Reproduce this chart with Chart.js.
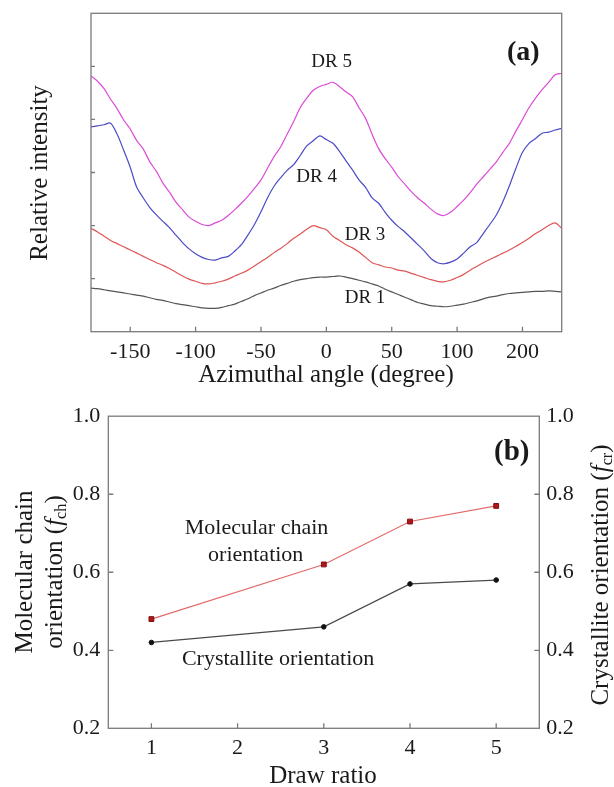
<!DOCTYPE html>
<html>
<head>
<meta charset="utf-8">
<script src="https://cdn.jsdelivr.net/npm/chart.js@4.4.1/dist/chart.umd.min.js"></script>
<style>
  html, body { margin: 0; padding: 0; background: #fff; }
  #wrap { position: relative; width: 614px; height: 787px; }
  canvas { position: absolute; left: 0; }
  #chartA { top: 0; }
  #chartB { top: 395px; }
</style>
</head>
<body>
<div id="wrap">
  <canvas id="chartA" width="614" height="395"></canvas>
  <canvas id="chartB" width="614" height="392"></canvas>
</div>
<script>
// ---- panel (a): azimuthal intensity profiles ----
const angles = [
  -180, -175, -170, -165, -160, -155, -150, -145, -140, -135, -130, -125, -120, -115, -110, -105,
  -100, -95, -90, -85, -80, -75, -70, -65, -60, -55, -50, -45, -40, -35, -30, -25, -20, -15, -10, -5,
  0, 5, 10, 15, 20, 25, 30, 35, 40, 45, 50, 55, 60, 65, 70, 75, 80, 85, 90, 95,
  100, 105, 110, 115, 120, 125, 130, 135, 140, 145, 150, 155, 160, 165, 170, 175, 180
];
const dr5 = [
  4.82, 4.72, 4.58, 4.38, 4.20, 3.99, 3.82, 3.60, 3.44, 3.20, 3.02, 2.80, 2.63, 2.44, 2.30, 2.16,
  2.08, 2.02, 2.00, 2.05, 2.10, 2.19, 2.30, 2.42, 2.55, 2.70, 2.86, 3.08, 3.30, 3.48, 3.72, 3.96, 4.22, 4.40, 4.55, 4.62,
  4.66, 4.70, 4.62, 4.52, 4.43, 4.22, 4.02, 3.72, 3.45, 3.26, 3.10, 2.92, 2.78, 2.64, 2.52, 2.42, 2.31, 2.22, 2.19, 2.25,
  2.36, 2.48, 2.62, 2.78, 2.92, 3.06, 3.20, 3.38, 3.55, 3.78, 4.00, 4.22, 4.40, 4.56, 4.70, 4.84, 4.87
];
const dr4 = [
  3.86, 3.88, 3.90, 3.93, 3.72, 3.42, 3.10, 2.72, 2.52, 2.34, 2.20, 2.08, 1.96, 1.82, 1.68, 1.56,
  1.47, 1.40, 1.36, 1.35, 1.39, 1.42, 1.52, 1.64, 1.82, 2.02, 2.26, 2.52, 2.74, 2.90, 3.04, 3.15, 3.32, 3.50, 3.60, 3.69,
  3.62, 3.55, 3.40, 3.22, 3.05, 2.86, 2.72, 2.52, 2.42, 2.25, 2.10, 1.98, 1.88, 1.76, 1.64, 1.52, 1.38, 1.30, 1.28, 1.31,
  1.37, 1.48, 1.60, 1.68, 1.85, 2.02, 2.20, 2.45, 2.75, 3.08, 3.38, 3.55, 3.64, 3.74, 3.76, 3.80, 3.83
];
const dr3 = [
  1.95, 1.88, 1.80, 1.72, 1.66, 1.60, 1.54, 1.48, 1.42, 1.36, 1.30, 1.25, 1.19, 1.12, 1.05, 0.99,
  0.95, 0.91, 0.90, 0.92, 0.95, 0.99, 1.05, 1.10, 1.16, 1.24, 1.32, 1.40, 1.49, 1.57, 1.66, 1.76, 1.84, 1.93, 2.00, 1.96,
  1.92, 1.80, 1.72, 1.64, 1.58, 1.50, 1.40, 1.30, 1.26, 1.22, 1.20, 1.16, 1.14, 1.10, 1.06, 1.02, 0.98, 0.95, 0.94, 0.97,
  1.02, 1.08, 1.16, 1.23, 1.30, 1.36, 1.42, 1.48, 1.54, 1.61, 1.68, 1.76, 1.85, 1.92, 2.00, 2.05, 1.95
];
const dr1 = [
  0.82, 0.81, 0.79, 0.77, 0.75, 0.73, 0.71, 0.69, 0.67, 0.64, 0.61, 0.59, 0.56, 0.53, 0.51, 0.49,
  0.47, 0.45, 0.44, 0.44, 0.46, 0.49, 0.52, 0.57, 0.62, 0.68, 0.73, 0.78, 0.82, 0.87, 0.91, 0.95, 0.98, 1.00, 1.02, 1.03,
  1.03, 1.04, 1.05, 1.03, 1.00, 0.97, 0.94, 0.90, 0.86, 0.80, 0.75, 0.70, 0.65, 0.60, 0.55, 0.52, 0.49, 0.48, 0.47, 0.48,
  0.50, 0.52, 0.55, 0.58, 0.62, 0.65, 0.67, 0.70, 0.72, 0.73, 0.74, 0.75, 0.76, 0.76, 0.77, 0.76, 0.75
];
const angleTicks = [-150, -100, -50, 0, 50, 100, 150];
const angleTickLabels = ['-150', '-100', '-50', '0', '50', '100', '200'];
const intensityTicks = [1, 2, 3, 4, 5];

// ---- panel (b): orientation factors vs draw ratio ----
const drawRatio = [1, 3, 4, 5];
const fch = [0.48, 0.62, 0.73, 0.77];
const fcr = [0.42, 0.46, 0.57, 0.58];
const drawTicks = [1, 2, 3, 4, 5];
const orientTicks = [0.2, 0.4, 0.6, 0.8, 1.0];

const serif = "'Times New Roman', 'Liberation Serif', serif";
Chart.defaults.font.family = serif;
Chart.defaults.color = '#1a1a1a';

function drawRich(ctx, t) {
  const fontOf = p => (p.italic ? 'italic ' : '') + (p.sub ? t.size * 0.65 : t.size) + 'px ' + serif;
  const widths = t.parts.map(p => { ctx.font = fontOf(p); return ctx.measureText(p.text).width; });
  const total = widths.reduce((s, w) => s + w, 0);
  ctx.save();
  ctx.translate(t.x, t.y);
  if (t.rotate) ctx.rotate(t.rotate);
  ctx.textAlign = 'left';
  ctx.textBaseline = 'middle';
  let cx = -total / 2;
  t.parts.forEach((p, i) => {
    ctx.font = fontOf(p);
    ctx.fillText(p.text, cx, p.sub ? t.size * 0.28 : 0);
    cx += widths[i];
  });
  ctx.restore();
}

// frame box, inward tick marks, in-plot labels and axis titles
const panelDecor = {
  id: 'panelDecor',
  afterDraw(chart, args, opts) {
    const ctx = chart.ctx, a = chart.chartArea;
    ctx.save();
    ctx.strokeStyle = '#7a7a7a';
    ctx.lineWidth = 1.3;
    ctx.strokeRect(a.left, a.top, a.right - a.left, a.bottom - a.top);
    ctx.beginPath();
    (opts.ticks || []).forEach(t => {
      const s = chart.scales[t.scale];
      t.values.forEach(v => {
        const p = s.getPixelForValue(v);
        if (t.side === 'bottom') { ctx.moveTo(p, a.bottom); ctx.lineTo(p, a.bottom - t.len); }
        else if (t.side === 'left') { ctx.moveTo(a.left, p); ctx.lineTo(a.left + t.len, p); }
        else { ctx.moveTo(a.right, p); ctx.lineTo(a.right - t.len, p); }
      });
    });
    ctx.stroke();
    ctx.fillStyle = '#1a1a1a';
    ctx.textAlign = 'center';
    ctx.textBaseline = 'middle';
    (opts.labels || []).forEach(l => {
      ctx.font = (l.bold ? 'bold ' : '') + l.size + 'px ' + serif;
      ctx.fillText(l.text, chart.scales.x.getPixelForValue(l.x), chart.scales.y.getPixelForValue(l.y));
    });
    (opts.titles || []).forEach(t => drawRich(ctx, t));
    ctx.restore();
  }
};

const toPts = ys => angles.map((x, i) => ({ x: x, y: ys[i] }));
const curve = (label, ys, color) => ({
  label: label, data: toPts(ys), borderColor: color, borderWidth: 1.2,
  pointRadius: 0, tension: 0.3, fill: false
});

new Chart(document.getElementById('chartA'), {
  type: 'line',
  data: {
    datasets: [
      curve('DR 5', dr5, '#dc4ad8'),
      curve('DR 4', dr4, '#4b4bc6'),
      curve('DR 3', dr3, '#de5656'),
      curve('DR 1', dr1, '#555555')
    ]
  },
  options: {
    responsive: false,
    animation: false,
    layout: { padding: { left: 0, right: 52.3, top: 13.3, bottom: 0 } },
    scales: {
      x: {
        type: 'linear', min: -180, max: 180,
        afterBuildTicks: s => { s.ticks = angleTicks.map(v => ({ value: v })); },
        afterFit: s => { s.height = 63.3; },
        ticks: { font: { size: 22 }, padding: 7, maxRotation: 0, callback: (v, i) => angleTickLabels[i] },
        grid: { display: false, drawTicks: false },
        border: { display: false }
      },
      y: {
        min: 0, max: 6,
        afterFit: s => { s.width = 91; },
        ticks: { display: false },
        grid: { display: false, drawTicks: false },
        border: { display: false }
      }
    },
    plugins: {
      legend: { display: false },
      tooltip: { enabled: false },
      panelDecor: {
        ticks: [
          { scale: 'x', side: 'bottom', len: 5, values: angleTicks },
          { scale: 'y', side: 'left', len: 4, values: intensityTicks }
        ],
        labels: [
          { text: 'DR 5', x: 4, y: 5.09, size: 19 },
          { text: 'DR 4', x: -7.4, y: 2.92, size: 19 },
          { text: 'DR 3', x: 29.6, y: 1.82, size: 19 },
          { text: 'DR 1', x: 29.6, y: 0.63, size: 19 },
          { text: '(a)', x: 150.6, y: 5.25, size: 28, bold: true }
        ],
        titles: [
          { parts: [{ text: 'Azimuthal angle (degree)' }], x: 326, y: 375, size: 25 },
          { parts: [{ text: 'Relative intensity' }], x: 40, y: 173, size: 25, rotate: -Math.PI / 2 }
        ]
      }
    }
  },
  plugins: [panelDecor]
});

const orientAxis = (pos, width, pad) => ({
  position: pos, min: 0.2, max: 1.0,
  afterBuildTicks: s => { s.ticks = orientTicks.map(v => ({ value: v })); },
  afterFit: s => { s.width = width; },
  ticks: { font: { size: 22 }, padding: pad, callback: v => v.toFixed(1) },
  grid: { display: false, drawTicks: false },
  border: { display: false }
});

new Chart(document.getElementById('chartB'), {
  type: 'line',
  data: {
    datasets: [
      {
        label: 'Molecular chain orientation', yAxisID: 'y',
        data: drawRatio.map((x, i) => ({ x: x, y: fch[i] })),
        borderColor: '#e36a6a', borderWidth: 1.2, tension: 0,
        pointStyle: 'rect', pointRadius: 3.4, pointBackgroundColor: '#b3161a', pointBorderColor: '#7d0d10', pointBorderWidth: 1
      },
      {
        label: 'Crystallite orientation', yAxisID: 'y2',
        data: drawRatio.map((x, i) => ({ x: x, y: fcr[i] })),
        borderColor: '#4a4a4a', borderWidth: 1.2, tension: 0,
        pointStyle: 'circle', pointRadius: 2.3, pointBackgroundColor: '#111', pointBorderColor: '#111', pointBorderWidth: 1
      }
    ]
  },
  options: {
    responsive: false,
    animation: false,
    layout: { padding: { left: 0, right: 0, top: 18.3, bottom: 0 } },
    scales: {
      x: {
        type: 'linear', min: 0.5, max: 5.5,
        afterBuildTicks: s => { s.ticks = drawTicks.map(v => ({ value: v })); },
        afterFit: s => { s.height = 58.7; },
        ticks: { font: { size: 22 }, padding: 7, maxRotation: 0, callback: v => String(v) },
        grid: { display: false, drawTicks: false },
        border: { display: false }
      },
      y: orientAxis('left', 108.3, 8),
      y2: orientAxis('right', 74.7, 7)
    },
    plugins: {
      legend: { display: false },
      tooltip: { enabled: false },
      panelDecor: {
        ticks: [
          { scale: 'x', side: 'bottom', len: 5, values: drawTicks },
          { scale: 'y', side: 'left', len: 5, values: orientTicks.slice(1, 4) },
          { scale: 'y2', side: 'right', len: 5, values: orientTicks.slice(1, 4) }
        ],
        labels: [
          { text: 'Molecular chain', x: 2.22, y: 0.712, size: 22 },
          { text: 'orientation', x: 2.21, y: 0.644, size: 22 },
          { text: 'Crystallite orientation', x: 2.47, y: 0.378, size: 22 },
          { text: '(b)', x: 5.18, y: 0.907, size: 29, bold: true }
        ],
        titles: [
          { parts: [{ text: 'Draw ratio' }], x: 323, y: 381, size: 25 },
          { parts: [{ text: 'Molecular chain' }], x: 25, y: 177, size: 25, rotate: -Math.PI / 2 },
          { parts: [{ text: 'orientation (' }, { text: 'f', italic: true }, { text: 'ch', sub: true }, { text: ')' }],
            x: 55, y: 177, size: 25, rotate: -Math.PI / 2 },
          { parts: [{ text: 'Crystallite orientation (' }, { text: 'f', italic: true }, { text: 'cr', sub: true }, { text: ')' }],
            x: 601, y: 180, size: 25, rotate: -Math.PI / 2 }
        ]
      }
    }
  },
  plugins: [panelDecor]
});
</script>
</body>
</html>
